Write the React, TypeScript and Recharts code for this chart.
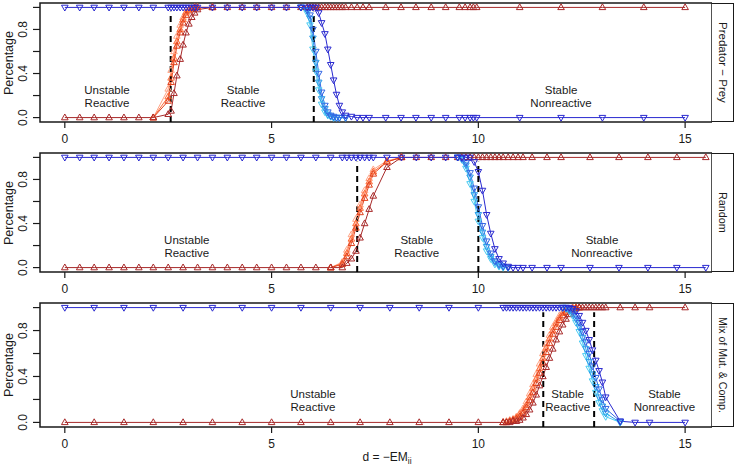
import React from "react";
import { LineChart, Line, XAxis, YAxis, ReferenceArea, ReferenceLine, ReferenceDot } from "recharts";

// ---- Predator−Prey ----
const p1X = [0, 0.36, 0.71, 1.07, 1.43, 1.79, 2.14, 2.5, 2.57, 2.64, 2.71, 2.79, 2.86, 2.93, 3.0, 3.07, 3.14, 3.21, 3.57, 3.93, 4.29, 4.64, 5.0, 5.36, 5.71, 5.86, 5.93, 6.0, 6.07, 6.14, 6.21, 6.29, 6.36, 6.43, 6.5, 6.57, 6.64, 6.71, 6.79, 6.93, 7.07, 7.21, 7.36, 7.76, 8.13, 8.49, 8.86, 9.21, 9.54, 9.68, 9.8, 9.88, 9.96, 11, 12, 13, 14, 15];
const p1DarkRed = [0, 0, 0, 0, 0, 0, 0, 0.03, 0.06, 0.22, 0.38, 0.53, 0.66, 0.77, 0.85, 0.91, 0.95, 0.98,
  1, 1, 1, 1, 1, 1, 1, 1, 1, 1, 1, 1, 1, 1, 1, 1, 1, 1, 1, 1, 1, 1, 1, 1, 1, 1, 1, 1, 1, 1, 1, 1, 1, 1, 1, 1, 1, 1, 1, 1];
const p1DarkBlue = [1, 1, 1, 1, 1, 1, 1, 1, 1, 1, 1, 1, 1, 1, 1, 1, 1, 1, 1, 1, 1, 1, 1, 1, 1, 1, 1, 1, 1,
  0.95, 0.86, 0.76, 0.62, 0.48, 0.34, 0.21, 0.11, 0.05, 0.02, 0.01,
  0, 0, 0, 0, 0, 0, 0, 0, 0, 0, 0, 0, 0, 0, 0, 0, 0, 0];
const p1RedX = [2.14, 2.5, 2.57, 2.64, 2.71, 2.79, 2.86, 2.93, 3.0, 3.07, 3.14, 3.21, 3.57];
const p1Salmon = [0, 0.26, 0.43, 0.6, 0.74, 0.84, 0.91, 0.96, 0.98, 0.99, 1, 1, 1];
const p1Orange = [0, 0.19, 0.36, 0.54, 0.69, 0.8, 0.89, 0.95, 0.98, 0.99, 1, 1, 1];
const p1Scarlet = [0, 0.15, 0.32, 0.5, 0.65, 0.77, 0.86, 0.93, 0.97, 0.99, 1, 1, 1];
const p1BlueX = [5.71, 5.86, 5.93, 6.0, 6.07, 6.14, 6.21, 6.29, 6.36, 6.43, 6.5, 6.57, 6.64, 6.79];
const p1Cyan = [1, 0.95, 0.84, 0.62, 0.42, 0.25, 0.12, 0.05, 0.02, 0.01, 0, 0, 0, 0];
const p1Sky = [1, 0.97, 0.9, 0.72, 0.5, 0.32, 0.17, 0.08, 0.03, 0.01, 0, 0, 0, 0];
const p1Azure = [1, 0.98, 0.93, 0.8, 0.6, 0.4, 0.23, 0.11, 0.05, 0.02, 0.01, 0, 0, 0];
const p1Cuts = [2.56, 6.02];

// ---- Random ----
const p2X = [0, 0.36, 0.71, 1.07, 1.43, 1.79, 2.14, 2.5, 2.86, 3.21, 3.57, 3.93, 4.29, 4.64, 5.0, 5.36, 5.71, 6.07, 6.43, 6.71, 6.82, 6.93, 7.04, 7.14, 7.25, 7.36, 7.46, 7.79, 8.14, 8.5, 8.86, 9.21, 9.5, 9.6, 9.7, 9.8, 9.9, 10.0, 10.1, 10.2, 10.3, 10.4, 10.5, 10.6, 10.72, 10.84, 10.96, 11.08, 11.3, 11.66, 12.0, 12.7, 13.4, 14.1, 14.8, 15.5];
const p2DarkRed = [0, 0, 0, 0, 0, 0, 0, 0, 0, 0, 0, 0, 0, 0, 0, 0, 0, 0, 0, 0,
  0.04, 0.08, 0.15, 0.27, 0.4, 0.53, 0.65, 0.91,
  1, 1, 1, 1, 1, 1, 1, 1, 1, 1, 1, 1, 1, 1, 1, 1, 1, 1, 1, 1, 1, 1, 1, 1, 1, 1, 1, 1];
const p2DarkBlue = [1, 1, 1, 1, 1, 1, 1, 1, 1, 1, 1, 1, 1, 1, 1, 1, 1, 1, 1, 1, 1, 1, 1, 1, 1, 1, 1, 1, 1, 1, 1, 1, 1, 1, 1, 1,
  0.96, 0.87, 0.7, 0.48, 0.31, 0.17, 0.08, 0.04, 0.01,
  0, 0, 0, 0, 0, 0, 0, 0, 0, 0, 0];
const p2RedX = [6.43, 6.71, 6.82, 6.93, 7.04, 7.14, 7.25, 7.36, 7.46, 7.79, 8.14];
const p2Salmon = [0, 0.05, 0.16, 0.3, 0.44, 0.57, 0.7, 0.81, 0.89, 0.97, 1];
const p2Orange = [0, 0.04, 0.13, 0.26, 0.4, 0.54, 0.67, 0.78, 0.87, 0.96, 1];
const p2Scarlet = [0, 0.03, 0.1, 0.22, 0.36, 0.5, 0.63, 0.75, 0.85, 0.96, 1];
const p2BlueX = [9.5, 9.6, 9.7, 9.8, 9.9, 10.0, 10.1, 10.2, 10.3, 10.4, 10.5, 10.6, 10.72];
const p2Cyan = [1, 0.98, 0.9, 0.76, 0.6, 0.42, 0.27, 0.15, 0.08, 0.03, 0.01, 0, 0];
const p2Sky = [1, 0.99, 0.93, 0.82, 0.66, 0.48, 0.32, 0.19, 0.1, 0.05, 0.02, 0.01, 0];
const p2Azure = [1, 0.99, 0.95, 0.86, 0.72, 0.55, 0.38, 0.24, 0.13, 0.06, 0.03, 0.01, 0];
const p2Cuts = [7.07, 10.0];

// ---- Mix of Mut. & Comp. ----
const p3X = [0, 0.71, 1.43, 2.14, 2.86, 3.57, 4.29, 5.0, 5.71, 6.43, 7.14, 7.86, 8.57, 9.29, 10.0,
  10.6, 10.68, 10.76, 10.84, 10.92, 11.0, 11.08, 11.16, 11.24, 11.32,
  11.4, 11.48, 11.56, 11.64, 11.72, 11.8, 11.88, 11.96, 12.04, 12.12,
  12.2, 12.28, 12.36, 12.44, 12.52, 12.6, 12.68, 12.76, 12.84, 12.92,
  13.0, 13.08, 13.43, 13.79, 14.14, 15.0];
const p3DarkRed = [0, 0, 0, 0, 0, 0, 0, 0, 0, 0, 0, 0, 0, 0, 0,
  0, 0, 0, 0.01, 0.01, 0.02, 0.04, 0.07, 0.11, 0.17,
  0.24, 0.32, 0.4, 0.48, 0.56, 0.64, 0.72, 0.79, 0.85, 0.9,
  0.94, 0.97, 0.99, 1, 1, 1, 1, 1, 1, 1, 1, 1, 1, 1, 1, 1];
const p3DarkBlue = [1, 1, 1, 1, 1, 1, 1, 1, 1, 1, 1, 1, 1, 1, 1, 1, 1, 1, 1, 1, 1, 1, 1, 1, 1, 1, 1, 1, 1, 1, 1, 1, 1, 1, 1, 1,
  0.99, 0.97, 0.93, 0.87, 0.8, 0.72, 0.63, 0.54, 0.45, 0.35, 0.22, 0.01, 0, 0, 0];
const p3RedX = [10.6, 10.68, 10.76, 10.84, 10.92, 11.0, 11.08, 11.16, 11.24, 11.32, 11.4, 11.48, 11.56, 11.64, 11.72, 11.8, 11.88, 11.96, 12.04, 12.12, 12.2, 12.28, 12.36, 12.44];
const p3Salmon = [0, 0.01, 0.02, 0.03, 0.05, 0.08, 0.12, 0.18, 0.25, 0.33, 0.42, 0.51, 0.6, 0.68, 0.76, 0.83, 0.88, 0.93, 0.96, 0.98, 0.99, 1, 1, 1];
const p3Orange = [0, 0, 0.01, 0.02, 0.04, 0.07, 0.1, 0.15, 0.22, 0.3, 0.38, 0.47, 0.56, 0.65, 0.73, 0.8, 0.86, 0.91, 0.95, 0.97, 0.99, 1, 1, 1];
const p3Scarlet = [0, 0, 0.01, 0.02, 0.03, 0.05, 0.08, 0.13, 0.19, 0.26, 0.34, 0.43, 0.52, 0.61, 0.69, 0.77, 0.83, 0.89, 0.93, 0.96, 0.98, 0.99, 1, 1];
const p3BlueX = [12.04, 12.12, 12.2, 12.28, 12.36, 12.44, 12.52, 12.6, 12.68, 12.76, 12.84, 12.92, 13.0, 13.08, 13.43];
const p3Cyan = [1, 0.99, 0.97, 0.93, 0.87, 0.79, 0.69, 0.58, 0.47, 0.36, 0.26, 0.17, 0.1, 0.05, 0];
const p3Sky = [1, 1, 0.98, 0.95, 0.9, 0.83, 0.74, 0.64, 0.53, 0.42, 0.31, 0.22, 0.14, 0.08, 0];
const p3Azure = [1, 1, 0.99, 0.97, 0.93, 0.87, 0.79, 0.7, 0.6, 0.49, 0.39, 0.29, 0.2, 0.12, 0.01];
const p3Cuts = [11.57, 12.8];

const X_TICKS = [0, 5, 10, 15];
const Y_TICKS = [0, 0.2, 0.4, 0.6, 0.8, 1];
const Y_LABELED = [0, 0.4, 0.8];

const COL = {
  salmon: "#FFA486",
  orange: "#FF6C38",
  scarlet: "#E0401C",
  darkRed: "#A82A2A",
  cyan: "#4ACBF2",
  sky: "#2C9DE9",
  azure: "#3467E4",
  darkBlue: "#2A2AD0",
};

const INK = "#1a1a1a";
const FONT = '"Liberation Sans", Arial, Helvetica, sans-serif';
const X_DOMAIN: [number, number] = [-0.6, 15.65];
const Y_DOMAIN: [number, number] = [-0.04, 1.04];

type Series = { key: string; x: number[]; y: number[]; color: string; dir: "up" | "down" };

const zip = (x: number[], y: number[]) => x.map((v, i) => ({ x: v, y: y[i] }));

function buildSeries(
  full: number[], darkRed: number[], darkBlue: number[],
  redX: number[], reds: number[][], blueX: number[], blues: number[][]
): Series[] {
  return [
    { key: "salmon", x: redX, y: reds[0], color: COL.salmon, dir: "up" },
    { key: "orange", x: redX, y: reds[1], color: COL.orange, dir: "up" },
    { key: "scarlet", x: redX, y: reds[2], color: COL.scarlet, dir: "up" },
    { key: "darkRed", x: full, y: darkRed, color: COL.darkRed, dir: "up" },
    { key: "cyan", x: blueX, y: blues[0], color: COL.cyan, dir: "down" },
    { key: "sky", x: blueX, y: blues[1], color: COL.sky, dir: "down" },
    { key: "azure", x: blueX, y: blues[2], color: COL.azure, dir: "down" },
    { key: "darkBlue", x: full, y: darkBlue, color: COL.darkBlue, dir: "down" },
  ];
}

const panels = [
  {
    strip: "Predator \u2212 Prey", stripSize: 11.5, top: 0, plotH: 119, axisH: 28,
    series: buildSeries(p1X, p1DarkRed, p1DarkBlue, p1RedX, [p1Salmon, p1Orange, p1Scarlet], p1BlueX, [p1Cyan, p1Sky, p1Azure]),
    cuts: p1Cuts,
    regions: [
      { x: 1.02, lines: ["Unstable", "Reactive"] },
      { x: 4.31, lines: ["Stable", "Reactive"] },
      { x: 12.0, lines: ["Stable", "Nonreactive"] },
    ],
  },
  {
    strip: "Random", stripSize: 10.8, top: 150, plotH: 119, axisH: 28,
    series: buildSeries(p2X, p2DarkRed, p2DarkBlue, p2RedX, [p2Salmon, p2Orange, p2Scarlet], p2BlueX, [p2Cyan, p2Sky, p2Azure]),
    cuts: p2Cuts,
    regions: [
      { x: 2.95, lines: ["Unstable", "Reactive"] },
      { x: 8.51, lines: ["Stable", "Reactive"] },
      { x: 12.99, lines: ["Stable", "Nonreactive"] },
    ],
  },
  {
    strip: "Mix of Mut. & Comp.", stripSize: 10.6, top: 300, plotH: 124, axisH: 41,
    series: buildSeries(p3X, p3DarkRed, p3DarkBlue, p3RedX, [p3Salmon, p3Orange, p3Scarlet], p3BlueX, [p3Cyan, p3Sky, p3Azure]),
    cuts: p3Cuts,
    regions: [
      { x: 6.0, lines: ["Unstable", "Reactive"] },
      { x: 12.16, lines: ["Stable", "Reactive"] },
      { x: 14.5, lines: ["Stable", "Nonreactive"] },
    ],
  },
];

function Tri({ cx, cy, color, dir }: { cx?: number; cy?: number; color: string; dir: "up" | "down" }) {
  if (cx == null || cy == null || isNaN(cx) || isNaN(cy)) return null;
  const d = dir === "up"
    ? `M${cx},${cy - 3.6}L${cx + 3.3},${cy + 2.2}L${cx - 3.3},${cy + 2.2}Z`
    : `M${cx},${cy + 3.6}L${cx + 3.3},${cy - 2.2}L${cx - 3.3},${cy - 2.2}Z`;
  return <path d={d} fill="none" stroke={color} strokeWidth={1} />;
}

function YTick(props: any) {
  const { y, payload } = props;
  if (!Y_LABELED.includes(payload.value)) return null;
  return (
    <text x={27} y={y} transform={`rotate(-90 27 ${y})`} textAnchor="middle" fontSize={12} fill={INK}>
      {payload.value.toFixed(1)}
    </text>
  );
}

// two-line region caption, first baseline at the anchor
const regionShape = (lines: string[]) => (p: any) => (
  <g>
    <text x={p.cx} y={p.cy - 1} textAnchor="middle" fontSize={11.5} fill={INK}>{lines[0]}</text>
    <text x={p.cx} y={p.cy + 12} textAnchor="middle" fontSize={11.5} fill={INK}>{lines[1]}</text>
  </g>
);

function Panel({ panel }: { panel: (typeof panels)[number] }) {
  const height = 3 + panel.plotH + panel.axisH;
  return (
    <LineChart width={712} height={height} margin={{ top: 3, right: 0, bottom: 0, left: 0 }}>
      <XAxis
        dataKey="x" type="number" domain={X_DOMAIN} allowDataOverflow ticks={X_TICKS} interval={0}
        height={panel.axisH} tickSize={6} tickMargin={6} axisLine={false}
        tickLine={{ stroke: INK, strokeWidth: 1.2 }} tick={{ fill: INK, fontSize: 12 }}
      />
      <YAxis
        type="number" domain={Y_DOMAIN} allowDataOverflow ticks={Y_TICKS} interval={0}
        width={40} tickSize={7} axisLine={false}
        tickLine={{ stroke: INK, strokeWidth: 1.2 }} tick={<YTick />}
      />
      <ReferenceArea x1={X_DOMAIN[0]} x2={X_DOMAIN[1]} y1={Y_DOMAIN[0]} y2={Y_DOMAIN[1]}
        fill="none" stroke={INK} strokeWidth={1.5} />
      {panel.regions.map((r) => (
        <ReferenceDot key={`${r.x}`} x={r.x} y={0.205} r={1} fill="none" stroke="none"
          shape={regionShape(r.lines)} />
      ))}
      {panel.series.map((s) => (
        <Line
          key={s.key} data={zip(s.x, s.y)} dataKey="y" type="linear"
          stroke={s.color} strokeWidth={1} isAnimationActive={false} activeDot={false} legendType="none"
          dot={(p: any) => <Tri key={`${s.key}-${p.index}`} cx={p.cx} cy={p.cy} color={s.color} dir={s.dir} />}
        />
      ))}
      {panel.cuts.map((c) => (
        <ReferenceLine key={c} segment={[{ x: c, y: -0.04 }, { x: c, y: 0.96 }]}
          stroke="#000" strokeWidth={2} strokeDasharray="6 4" />
      ))}
    </LineChart>
  );
}

export default function App() {
  return (
    <div style={{ position: "absolute", left: 0, top: 0, width: 737, height: 468, background: "#fff", fontFamily: FONT, color: INK }}>
      {panels.map((p) => (
        <div key={p.strip} style={{ position: "absolute", left: 0, top: p.top }}>
          <Panel panel={p} />
        </div>
      ))}
      {panels.map((p) => (
        <React.Fragment key={`o-${p.strip}`}>
          <div style={{
            position: "absolute", left: 9, top: p.top + 3 + p.plotH / 2,
            transform: "translate(-50%, -50%) rotate(-90deg)", whiteSpace: "nowrap",
            fontSize: 12.5, lineHeight: 1,
          }}>Percentage</div>
          <div style={{
            position: "absolute", left: 712, top: p.top + 3, width: 22, height: p.plotH,
            boxSizing: "border-box", border: `1.5px solid ${INK}`, borderLeft: "none",
            display: "flex", alignItems: "center", justifyContent: "center",
          }}>
            <span style={{ writingMode: "vertical-rl", fontSize: p.stripSize, whiteSpace: "nowrap", lineHeight: 1 }}>{p.strip}</span>
          </div>
        </React.Fragment>
      ))}
      <div style={{ position: "absolute", left: 387, top: 458, transform: "translate(-50%, -50%)", fontSize: 12, whiteSpace: "nowrap", lineHeight: 1 }}>
        d = &minus;EM<sub style={{ fontSize: 8.5 }}>ii</sub>
      </div>
    </div>
  );
}
